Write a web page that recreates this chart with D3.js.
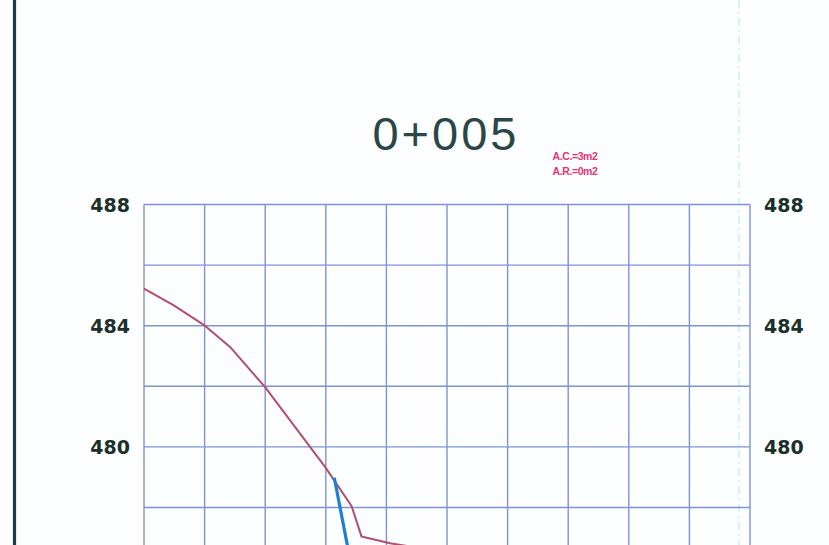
<!DOCTYPE html>
<html><head><meta charset="utf-8">
<script src="https://cdn.jsdelivr.net/npm/d3@7"></script>
<style>html,body{margin:0;padding:0;background:#fcfeff;overflow:hidden}</style>
</head><body>
<script>
const station = "0+005";
const areaLabels = ["A.C.=3m2", "A.R.=0m2"];
const yLabelTicks = [488, 484, 480];
const yGridTicks = [488, 486, 484, 482, 480, 478, 476];
const xGridTicks = [-10, -8, -6, -4, -2, 0, 2, 4, 6, 8, 10];
const groundOffset = [-10.0, -9.03, -7.99, -7.16, -6.01, -4.03, -3.15, -2.82, -1.88, -0.89];
const groundElev   = [485.22, 484.68, 484.0, 483.3, 481.98, 479.35, 478.05, 477.04, 476.82, 476.66];
const designOffset = [-3.72, -3.27];
const designElev   = [478.98, 476.66];

const W = 829, H = 545;
const svg = d3.select("body").append("svg").attr("width", W).attr("height", H);
svg.append("rect").attr("width", W).attr("height", H).attr("fill", "#fcfeff");

const x = d3.scaleLinear().domain([-10, 10]).range([144, 750]);
const y = d3.scaleLinear().domain([488, 476]).range([204.5, 568.1]);

// border line left
svg.append("line").attr("x1", 14.5).attr("x2", 14.5).attr("y1", 0).attr("y2", H)
  .attr("stroke", "#1d3b46").attr("stroke-width", 3.2);
// cyan dashed line
svg.append("line").attr("x1", 739).attr("x2", 739).attr("y1", 0).attr("y2", H)
  .attr("stroke", "#c6f3f8").attr("stroke-width", 1.6).attr("stroke-dasharray", "8,4,2,4");

const grid = svg.append("g").attr("stroke", "#7f92d2").attr("stroke-width", 1.4);
grid.selectAll("line.h").data(yGridTicks).join("line")
  .attr("x1", x(-10)).attr("x2", x(10)).attr("y1", d => y(d)).attr("y2", d => y(d));
grid.selectAll("line.v").data(xGridTicks).join("line").attr("class", "v")
  .attr("x1", d => x(d)).attr("x2", d => x(d)).attr("y1", y(488)).attr("y2", y(476));

// axes labels
const labStyle = s => s.attr("font-family", "DejaVu Sans").attr("font-weight", "bold")
  .attr("font-size", 19).attr("fill", "#1b2f2b");
const left = svg.append("g").attr("transform", `translate(${x(-10) - 14},0)`)
  .call(d3.axisLeft(y).tickValues(yLabelTicks).tickSize(0).tickPadding(0).tickFormat(d3.format("d")));
left.select(".domain").remove();
labStyle(left.selectAll("text")).attr("dy", "0.36em");
const right = svg.append("g").attr("transform", `translate(${x(10) + 14},0)`)
  .call(d3.axisRight(y).tickValues(yLabelTicks).tickSize(0).tickPadding(0).tickFormat(d3.format("d")));
right.select(".domain").remove();
labStyle(right.selectAll("text")).attr("dy", "0.36em");

// title
svg.append("text").attr("x", x(0) - 1).attr("y", 150).attr("text-anchor", "middle")
  .attr("font-family", "Liberation Sans").attr("font-size", 47).attr("letter-spacing", 3)
  .attr("fill", "#2a4648").text(station);
svg.selectAll("text.area").data(areaLabels).join("text").attr("class", "area")
  .attr("x", 552.5).attr("y", (d, i) => 160 + i * 15)
  .attr("font-family", "Liberation Sans").attr("font-weight", "bold").attr("font-size", 10.5)
  .attr("letter-spacing", -0.4)
  .attr("fill", "#e8336f").text(d => d);

// ground line
const ground = groundOffset.map((o, i) => [o, groundElev[i]]);
svg.append("path").datum(ground)
  .attr("d", d3.line().x(d => x(d[0])).y(d => y(d[1])))
  .attr("fill", "none").attr("stroke", "#b0506e").attr("stroke-width", 2)
  .attr("stroke-linejoin", "round");
// design line
const design = designOffset.map((o, i) => [o, designElev[i]]);
svg.append("path").datum(design)
  .attr("d", d3.line().x(d => x(d[0])).y(d => y(d[1])))
  .attr("fill", "none").attr("stroke", "#1f7ed6").attr("stroke-width", 3.2);
</script>
</body></html>
